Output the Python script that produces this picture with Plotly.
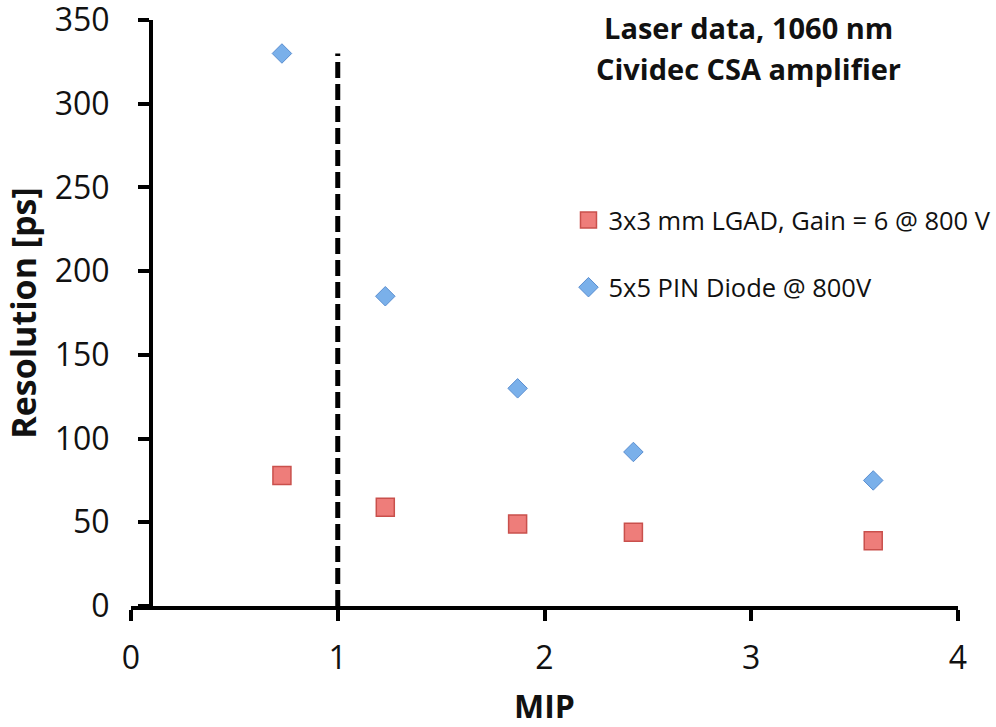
import plotly.graph_objects as go

mip = [0.73, 1.23, 1.87, 2.43, 3.59]
lgad_res = [78, 59, 49, 44, 39]
pin_res = [330, 185, 130, 92, 75]
cut_x = [1, 1]
cut_y = [0, 330]

lgad_name = "3x3 mm LGAD, Gain = 6 @ 800 V"
pin_name = "5x5 PIN Diode @ 800V"
title_lines = ["Laser data, 1060 nm", "Cividec CSA amplifier"]
x_ticks = [0, 1, 2, 3, 4]
y_ticks = [0, 50, 100, 150, 200, 250, 300, 350]

FONT = "Open Sans"

fig = go.Figure()
fig.add_trace(go.Scatter(
    x=cut_x, y=cut_y, mode="lines", showlegend=False, hoverinfo="skip",
    line=dict(color="black", width=5, dash="16px,6px"),
))
fig.add_trace(go.Scatter(
    x=mip, y=lgad_res, mode="markers", name=lgad_name, legendgroup="a",
    marker=dict(symbol="square", size=18, color="#EE7D7A",
                line=dict(color="#C9504C", width=1.5)),
))
fig.add_trace(go.Scatter(
    x=mip, y=pin_res, mode="markers", name=pin_name, legendgroup="b",
    marker=dict(symbol="diamond", size=15, color="#7AB0EA",
                line=dict(color="#5A8ED0", width=1)),
))

axis_common = dict(
    showline=True, linecolor="black", linewidth=4,
    ticks="outside", ticklen=11, tickwidth=4, tickcolor="black",
    showgrid=False, zeroline=False, automargin=False,
    ticklabeloverflow="allow",
    tickfont=dict(family=FONT, size=32, color="#111111"),
)

fig.update_layout(
    width=996, height=727,
    margin=dict(l=131, r=38, t=20, b=121, autoexpand=False),
    paper_bgcolor="white", plot_bgcolor="white",
    font=dict(family=FONT, color="#111111"),
    xaxis=dict(range=[0, 4], tickvals=x_ticks, ticklabelstandoff=10, **axis_common,
               title=dict(text="<b>MIP</b>", font=dict(family=FONT, size=32), standoff=30)),
    yaxis=dict(range=[0, 350], tickvals=y_ticks, anchor="free", position=0.0242,
               ticklabelstandoff=22, **axis_common,
               title=dict(text="<b>Resolution [ps]</b>", font=dict(family=FONT, size=34), standoff=14)),
    legend=dict(x=0.529, y=0.698, xanchor="left", yanchor="top",
                font=dict(family=FONT, size=25.5, color="#111111"),
                tracegroupgap=31, traceorder="grouped", bgcolor="rgba(0,0,0,0)"),
    showlegend=True,
)

for i, line in enumerate(title_lines):
    fig.add_annotation(
        xref="paper", yref="paper",
        x=(748 - 131) / 827, y=(606 - (28 + 40 * i)) / 586,
        text=f"<b>{line}</b>", showarrow=False,
        xanchor="center", yanchor="middle",
        font=dict(family=FONT, size=29, color="#111111"),
    )

fig.write_html("out.html")
